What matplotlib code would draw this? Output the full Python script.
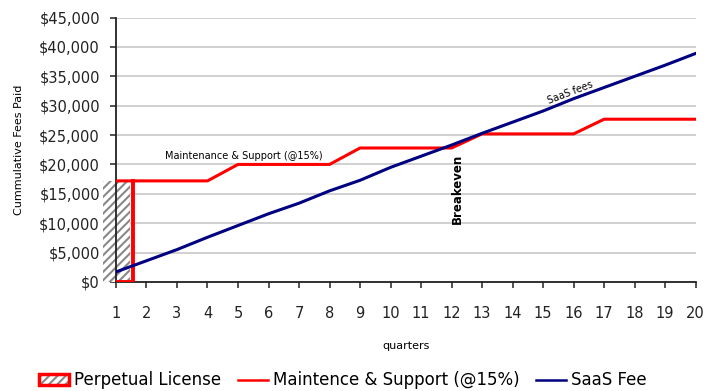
import numpy as np
import matplotlib.pyplot as plt
from matplotlib.patches import Patch
from matplotlib.lines import Line2D
from matplotlib.ticker import FuncFormatter

plt.rcParams['font.family'] = ['DejaVu Sans']
plt.rcParams['hatch.color'] = '#888888'
plt.rcParams['hatch.linewidth'] = 1.5

# cumulative fees per quarter
quarters = list(range(1, 21))
maintenance = [17200, 17200, 17200, 17200, 20000, 20000, 20000, 20000,
               22800, 22800, 22800, 22800, 25200, 25200, 25200, 25200,
               27700, 27700, 27700, 27700]
saas = [1700, 3600, 5500, 7600, 9600, 11600, 13400, 15500, 17300, 19500,
        21400, 23300, 25300, 27200, 29100, 31200, 33100, 35000, 36900, 38900]
license_cost = 17200
license_paid_by = 1.55   # licence paid off early in quarter 1
yticks = list(range(0, 45001, 5000))

RED = '#ff0000'
NAVY = '#000080'

fig = plt.figure(figsize=(7.07, 3.91), dpi=100)
ax = fig.add_axes([0.164, 0.279, 0.82, 0.676])

# hatched licence bar (hangs over the left of the axis like the Excel original)
ax.bar(1.015, license_cost, width=0.88, color='white', edgecolor='#888888',
       hatch='////', linewidth=0, clip_on=False, zorder=2)

# licence outline + maintenance steps
ax.plot([1, license_paid_by, license_paid_by], [0, 0, license_cost],
        color=RED, lw=2.8, solid_joinstyle='miter', zorder=3)
ax.plot(quarters, maintenance, color=RED, lw=2.2, zorder=3)
ax.plot(quarters, saas, color=NAVY, lw=2.2, zorder=4)

ax.set_xlim(1, 20)
ax.set_ylim(0, 45000)
ax.set_xticks(quarters)
ax.set_yticks(yticks)
ax.yaxis.set_major_formatter(FuncFormatter(lambda v, p: f'${v:,.0f}'))
ax.grid(axis='y', color='#c8c8c8', lw=1.2)
ax.set_axisbelow(True)
for s in ['top', 'right']:
    ax.spines[s].set_visible(False)
for s in ['left', 'bottom']:
    ax.spines[s].set_color('#222222')
    ax.spines[s].set_linewidth(1.3)
ax.tick_params(axis='both', direction='out', length=4, width=1.1,
               color='#222222', labelsize=10.5, labelcolor='#222222')
ax.tick_params(axis='x', pad=13)
ax.tick_params(axis='y', pad=7.5)

ax.set_xlabel('quarters', fontsize=8, labelpad=15)
ax.set_ylabel('Cummulative Fees Paid', fontsize=8, labelpad=11)

ax.text(5.2, 21500, 'Maintenance & Support (@15%)', fontsize=7,
        ha='center', va='center')
ax.text(15.9, 32300, 'SaaS fees', fontsize=7, rotation=21,
        ha='center', va='center')
ax.text(12.2, 15900, 'Breakeven', fontsize=8.5, fontweight='bold',
        rotation=90, ha='center', va='center')

# legend box: grey hatch with a red border
lic_handle = (Patch(facecolor='white', edgecolor='#888888', lw=0, hatch='////'),
              Patch(facecolor='none', edgecolor=RED, lw=2.5))
handles = [lic_handle,
           Line2D([], [], color=RED, lw=1.8),
           Line2D([], [], color=NAVY, lw=1.8)]
labels = ['Perpetual License', 'Maintence & Support (@15%)', 'SaaS Fee']
fig.legend(handles, labels, loc='center', bbox_to_anchor=(0.485, 0.027),
           ncol=3, frameon=False, fontsize=12, handlelength=1.8,
           handleheight=0.6, handletextpad=0.3, columnspacing=1.0)

fig.savefig('out.png', dpi=100)
